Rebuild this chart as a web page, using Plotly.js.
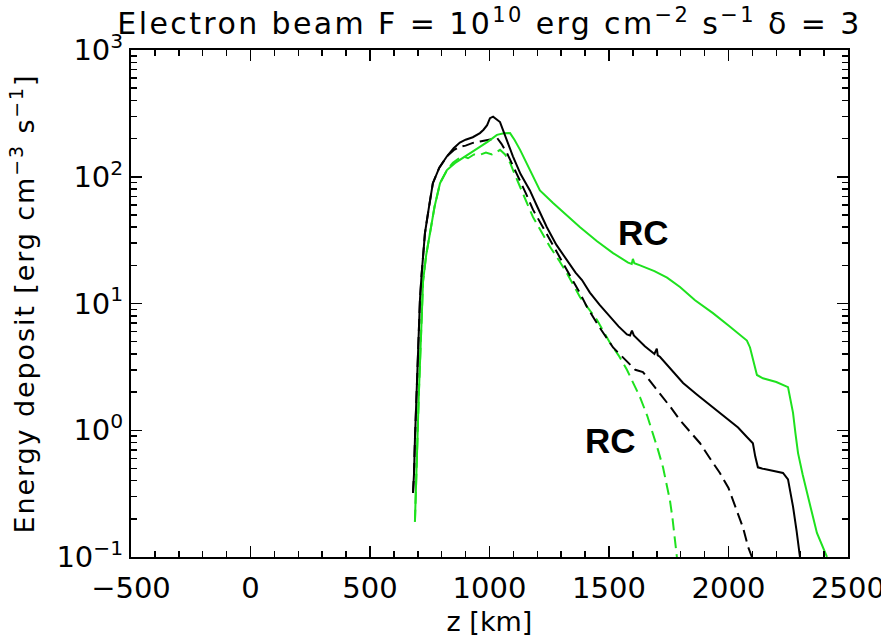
<!DOCTYPE html>
<html>
<head>
<meta charset="utf-8">
<script src="https://cdn.plot.ly/plotly-3.0.1.min.js"></script>
<style>
html,body{margin:0;padding:0;background:#fff;}
#chart{width:881px;height:640px;}
#chart .gtitle{letter-spacing:2.4px;}
#chart .ytitle{letter-spacing:1.9px;}
</style>
</head>
<body>
<div id="chart"></div>
<script>
// ---- data ----
var blackSolidZ = [680, 684, 688, 692, 697, 701, 705, 709, 716, 723, 730, 745, 763, 790, 822, 850, 876, 900, 930, 960, 975, 990, 1002, 1015, 1030, 1044, 1070, 1098, 1130, 1169, 1200, 1240, 1280, 1324, 1360, 1387, 1420, 1460, 1500, 1540, 1575, 1588, 1596, 1604, 1650, 1690, 1700, 1704, 1713, 1760, 1810, 1870, 1935, 2000, 2040, 2077, 2102, 2112, 2123, 2140, 2161, 2195, 2228, 2249, 2262, 2270, 2285, 2299];
var blackSolidV = [0.32, 0.45, 0.84, 1.4, 2.5, 4.3, 7.5, 10.7, 17, 25, 36, 55, 89, 118, 145, 168, 186, 196, 205, 221, 235, 255, 290, 298, 285, 270, 200, 145, 105, 78, 58, 40, 29, 22, 17.5, 15.3, 12.2, 9.8, 8.0, 6.6, 5.7, 5.6, 6.1, 5.6, 4.6, 4.0, 4.4, 3.9, 3.8, 3.0, 2.36, 1.9, 1.52, 1.22, 1.05, 0.885, 0.79, 0.62, 0.51, 0.5, 0.49, 0.48, 0.46, 0.41, 0.31, 0.25, 0.16, 0.1];

var greenSolidZ = [688, 692, 697, 701, 705, 709, 715, 722, 735, 751, 770, 793, 822, 855, 889, 925, 960, 995, 1031, 1060, 1086, 1105, 1128, 1169, 1211, 1266, 1320, 1379, 1450, 1517, 1580, 1595, 1600, 1606, 1630, 1690, 1743, 1797, 1860, 1935, 2000, 2077, 2090, 2105, 2119, 2144, 2200, 2249, 2260, 2270, 2280, 2291, 2310, 2328, 2350, 2370, 2390, 2412];
var greenSolidV = [0.19, 0.4, 0.75, 1.2, 2.1, 3.6, 7, 15, 24, 36, 58, 89, 113, 128, 141, 156, 172, 190, 214, 220, 221, 195, 163, 113, 78, 62, 50, 40, 31, 25, 21, 20.5, 22.5, 20.8, 20, 18, 16, 13.5, 10.6, 8.4, 6.7, 5.1, 4.5, 3.5, 2.73, 2.57, 2.4, 2.19, 1.75, 1.37, 0.95, 0.66, 0.45, 0.32, 0.22, 0.155, 0.125, 0.1];

var blackDashZ = [680, 684, 688, 692, 697, 701, 705, 709, 716, 723, 730, 745, 763, 790, 822, 850, 876, 900, 930, 960, 990, 1010, 1032, 1050, 1073, 1100, 1128, 1155, 1182, 1220, 1253, 1300, 1349, 1379, 1408, 1460, 1517, 1555, 1588, 1610, 1642, 1680, 1713, 1760, 1797, 1840, 1881, 1920, 1964, 2000, 2019, 2040, 2061, 2082, 2098];
var blackDashV = [0.32, 0.45, 0.84, 1.4, 2.5, 4.3, 7.5, 10.7, 17, 25, 36, 55, 89, 118, 145, 162, 172, 176, 185, 190, 196, 200, 202, 182, 154, 120, 94, 72, 55, 41, 31.8, 22, 15.3, 12, 9.4, 6.5, 4.5, 3.8, 3.27, 3.0, 2.88, 2.35, 1.97, 1.5, 1.2, 0.97, 0.79, 0.61, 0.46, 0.35, 0.28, 0.22, 0.17, 0.12, 0.1];

var greenDashZ = [688, 692, 697, 701, 705, 709, 715, 722, 735, 751, 770, 793, 822, 847, 868, 889, 910, 935, 960, 985, 1010, 1031, 1044, 1065, 1086, 1105, 1128, 1155, 1182, 1220, 1253, 1290, 1324, 1379, 1450, 1504, 1540, 1575, 1605, 1630, 1660, 1684, 1705, 1726, 1742, 1755, 1766, 1776, 1784];
var greenDashV = [0.19, 0.4, 0.75, 1.2, 2.1, 3.6, 7, 15, 24, 36, 58, 89, 113, 129, 138, 145, 140, 150, 149, 155, 150, 157, 163, 150, 129, 105, 83, 62, 48, 36, 28, 22, 17.3, 11.2, 7.4, 4.9, 3.9, 3.0, 2.3, 1.82, 1.3, 0.95, 0.7, 0.51, 0.37, 0.28, 0.2, 0.135, 0.1];

var xTickVals = [-500, 0, 500, 1000, 1500, 2000, 2500];
var yTickVals = [0.1, 1, 10, 100, 1000];
var yTickText = ['10<sup>−1</sup>', '10<sup>0</sup>', '10<sup>1</sup>', '10<sup>2</sup>', '10<sup>3</sup>'];
var labelTexts = ['RC', 'RC'];
var labelZ = [1646, 1508];
var labelV = [36, 0.83];

// ---- derived ----
var yMinor = [];
for (var e = -1; e < 3; e++) for (var m = 2; m < 10; m++) yMinor.push(m * Math.pow(10, e));

var GREEN = 'rgb(30,225,30)';
var DASH = '12px,6px';
var traces = [
  {x: greenDashZ, y: greenDashV, mode: 'lines', line: {color: GREEN, width: 2, dash: DASH}},
  {x: blackDashZ, y: blackDashV, mode: 'lines', line: {color: '#000', width: 2, dash: DASH}},
  {x: greenSolidZ, y: greenSolidV, mode: 'lines', line: {color: GREEN, width: 2}},
  {x: blackSolidZ, y: blackSolidV, mode: 'lines', line: {color: '#000', width: 2}}
];

var FONT = 'DejaVu Sans, sans-serif';
var anns = labelTexts.map(function (t, i) {
  return {x: labelZ[i], y: Math.log10(labelV[i]), xref: 'x', yref: 'y', text: '<b>' + t + '</b>',
    showarrow: false, font: {family: 'Liberation Sans, Arial, sans-serif', size: 35, color: '#000'}};
});

var layout = {
  width: 881, height: 640,
  margin: {l: 131, r: 33, t: 50, b: 83},
  paper_bgcolor: '#fff', plot_bgcolor: '#fff',
  showlegend: false,
  font: {family: FONT, color: '#000'},
  title: {text: 'Electron beam F = 10<sup>10</sup> erg cm<sup>−2</sup> s<sup>−1</sup> δ = 3',
    font: {family: FONT, size: 30, color: '#000'}, x: 0.5, xref: 'paper', y: 0.963, yref: 'container', yanchor: 'middle'},
  xaxis: {
    range: [-500, 2500], tickmode: 'array', tickvals: xTickVals,
    ticks: 'inside', ticklen: 11, tickwidth: 1.5, tickcolor: '#000',
    showline: true, linecolor: '#000', linewidth: 2, mirror: 'allticks',
    showgrid: false, zeroline: false, ticklabeloverflow: 'allow', ticklabelstandoff: 4,
    tickfont: {family: FONT, size: 29, color: '#000'},
    minor: {ticks: 'inside', ticklen: 6, tickwidth: 1.5, tickcolor: '#000', dtick: 100, tick0: 0, showgrid: false},
    title: {text: 'z [km]', font: {family: FONT, size: 27, color: '#000'}, standoff: 8}
  },
  yaxis: {
    type: 'log', range: [-1, 3], tickmode: 'array', tickvals: yTickVals, ticktext: yTickText,
    ticks: 'inside', ticklen: 11, tickwidth: 1.5, tickcolor: '#000',
    showline: true, linecolor: '#000', linewidth: 2, mirror: 'allticks',
    showgrid: false, zeroline: false, ticklabeloverflow: 'allow',
    tickfont: {family: FONT, size: 29, color: '#000'},
    minor: {ticks: 'inside', ticklen: 6, tickwidth: 1.5, tickcolor: '#000', tickmode: 'array', tickvals: yMinor, showgrid: false},
    title: {text: 'Energy deposit [erg cm<sup>−3</sup> s<sup>−1</sup>]', font: {family: FONT, size: 27, color: '#000'}, standoff: 14}
  },
  annotations: anns
};

Plotly.newPlot('chart', traces, layout, {displayModeBar: false, staticPlot: true});
</script>
</body>
</html>
